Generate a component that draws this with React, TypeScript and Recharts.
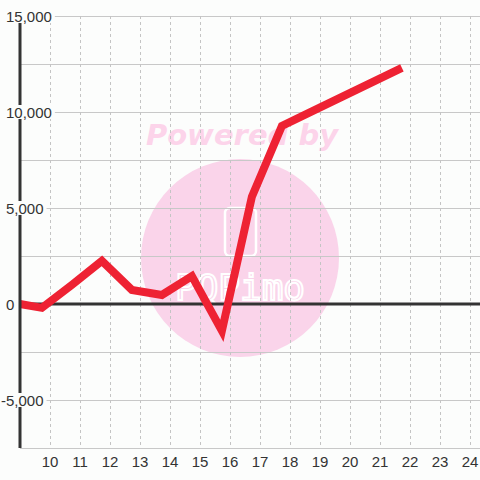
import React from "react";
import { LineChart, Line, XAxis, YAxis, CartesianGrid, ReferenceLine } from "recharts";

const hours = [9, 9.73, 10.73, 11.73, 12.73, 13.73, 14.73, 15.73, 16.73, 17.73, 18.73, 19.73, 20.73, 21.73];
const values = [0, -200, 1000, 2250, 730, 470, 1450, -1400, 5590, 9270, 10030, 10790, 11540, 12300];
const xTicks = [10, 11, 12, 13, 14, 15, 16, 17, 18, 19, 20, 21, 22, 23, 24];
const yTicks = [-7500, -5000, -2500, 0, 2500, 5000, 7500, 10000, 12500, 15000];
const labelStep = 5000;

const BG = "#fcfdfc";
const FONT = "'Liberation Sans', Arial, sans-serif";

const data = hours.map((h, i) => ({ hour: h, value: values[i] }));

const YTick = (props: any) => {
  const { x, y, payload } = props;
  const v = payload.value as number;
  if (v % labelStep !== 0) return <g />;
  const label = v.toLocaleString("en-US");
  const digits = label.replace(/[^0-9]/g, "").length;
  const commas = (label.match(/,/g) || []).length;
  const minus = v < 0 ? 1 : 0;
  const w = digits * 8.34 + commas * 4.17 + minus * 5;
  const sx = v < 0 ? x - 19 : x - 14;
  return (
    <g>
      <rect x={sx - 3} y={y - 7} width={w + 6} height={14} fill={BG} />
      <text x={sx} y={y + 5.5} fontSize={15} fontFamily={FONT} fill="#333" textAnchor="start">
        {label}
      </text>
    </g>
  );
};

const XTick = (props: any) => {
  const { x, y, payload } = props;
  return (
    <text x={x} y={y + 19} fontSize={15} fontFamily={FONT} fill="#333" textAnchor="middle">
      {payload.value}
    </text>
  );
};

export default function App() {
  return (
    <div style={{ position: "absolute", left: 0, top: 0, width: 480, height: 480, background: BG }}>
      <svg width={480} height={480} style={{ position: "absolute", left: 0, top: 0 }}>
        <circle cx={240} cy={258} r={99} fill="#fad4ea" />
        <text
          x={242}
          y={145}
          fontSize={29}
          fontWeight="bold"
          fontStyle="italic"
          fontFamily="'DejaVu Sans', sans-serif"
          fill="#fcd4ea"
          textAnchor="middle"
        >
          Powered by
        </text>
        <rect x={225} y={208} width={31} height={48} rx={5} fill="none" stroke="#ffffff" strokeWidth={2.5} />
        <text
          x={240}
          y={300}
          fontSize={36}
          fontFamily="'DejaVu Sans Mono', monospace"
          fill="none"
          stroke="#ffffff"
          strokeWidth={2}
          textAnchor="middle"
          textLength={130}
        >
          PQPimo
        </text>
      </svg>
      <div style={{ position: "absolute", left: 0, top: 0 }}>
        <LineChart width={480} height={480} data={data} margin={{ top: 16, right: 0, bottom: 0, left: 0 }}>
          <CartesianGrid
            horizontal={true}
            vertical={false}
            stroke="#c8c8c8"
            fill="none"
            shapeRendering="crispEdges"
          />
          <CartesianGrid
            horizontal={false}
            vertical={true}
            stroke="#c4c4c4"
            strokeDasharray="3 3"
            fill="none"
            shapeRendering="crispEdges"
          />
          <XAxis
            dataKey="hour"
            type="number"
            domain={[9, 24.333]}
            ticks={xTicks}
            height={32}
            tickLine={false}
            tickSize={0}
            tickMargin={0}
            axisLine={{ stroke: "#c8c8c8", strokeWidth: 1, shapeRendering: "crispEdges" }}
            tick={<XTick />}
            interval={0}
          />
          <YAxis
            type="number"
            domain={[-7500, 15000]}
            ticks={yTicks}
            width={20}
            tickLine={false}
            tickSize={0}
            tickMargin={0}
            axisLine={{ stroke: "#333", strokeWidth: 3 }}
            tick={<YTick />}
            interval={0}
          />
          <ReferenceLine y={0} stroke="#333" strokeWidth={3} />
          <Line
            type="linear"
            dataKey="value"
            stroke="#ee2233"
            strokeWidth={8}
            dot={false}
            activeDot={false}
            isAnimationActive={false}
          />
        </LineChart>
      </div>
    </div>
  );
}
